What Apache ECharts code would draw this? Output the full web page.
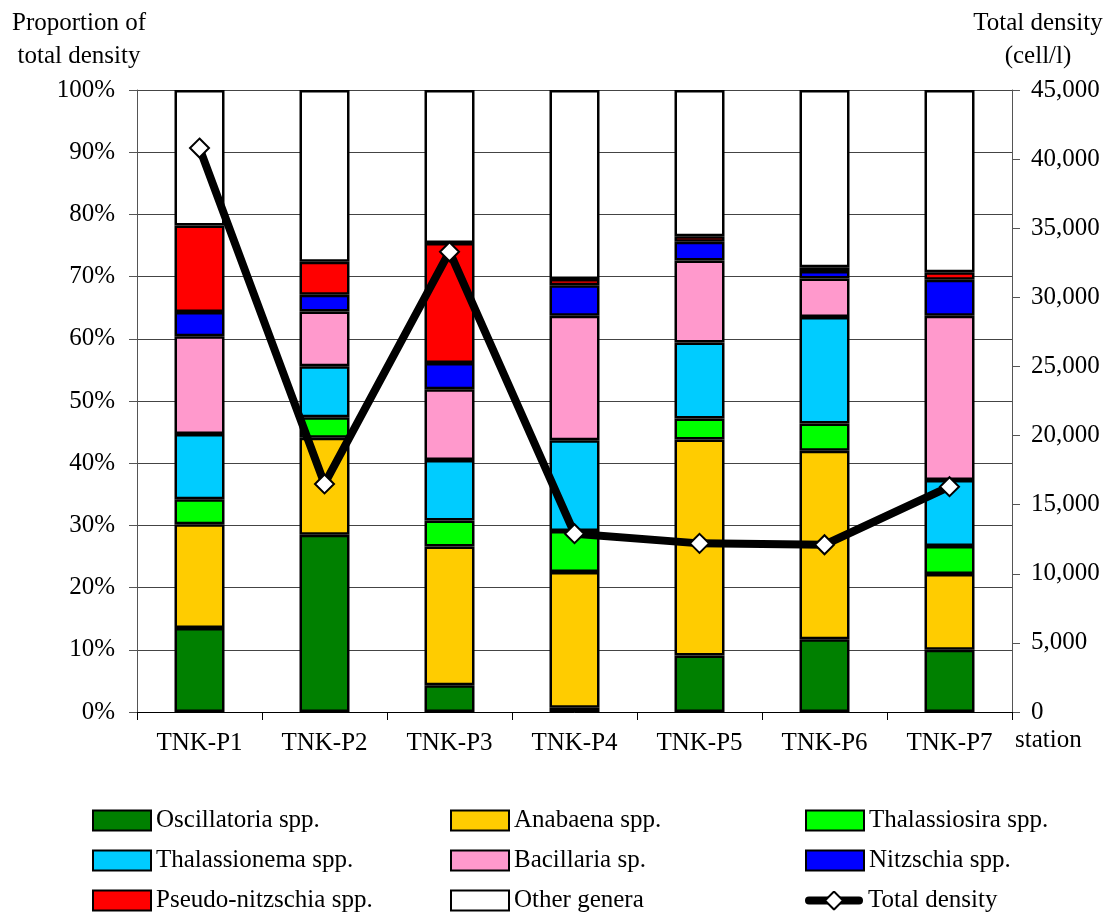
<!DOCTYPE html>
<html>
<head>
<meta charset="utf-8">
<script src="https://cdn.jsdelivr.net/npm/echarts@6/dist/echarts.min.js"></script>
<style>
  html, body { margin: 0; padding: 0; background: #fff; overflow: hidden; }
  #chart { width: 1109px; height: 915px; }
</style>
</head>
<body>
<div id="chart"></div>
<script>
// Sampling stations
const stations = ['TNK-P1', 'TNK-P2', 'TNK-P3', 'TNK-P4', 'TNK-P5', 'TNK-P6', 'TNK-P7'];

// Share of total density per genus (%)
const oscillatoria   = [13.5, 28.5, 4.3, 0.7, 9.1, 11.7, 10.0];
const anabaena       = [16.7, 15.6, 22.3, 21.8, 34.7, 30.3, 12.2];
const thalassiosira  = [4.0, 3.3, 4.2, 6.6, 3.4, 4.4, 4.5];
const thalassionema  = [10.5, 8.2, 9.7, 14.6, 12.2, 17.1, 10.6];
const bacillaria     = [15.7, 8.8, 11.4, 20.0, 13.2, 6.2, 26.4];
const nitzschia      = [3.9, 2.7, 4.2, 4.9, 3.0, 1.2, 5.8];
const pseudoNitzschia = [13.9, 5.3, 19.3, 1.0, 0.9, 0.6, 1.2];
const otherGenera    = [21.8, 27.6, 24.6, 30.4, 23.5, 28.5, 29.3];

// Total cell density (cell/l)
const totalDensity = [40800, 16500, 33300, 12900, 12200, 12100, 16300];

const FONT = "'Liberation Serif', 'Times New Roman', serif";
const FS = 25;

const genera = [
  { name: 'Oscillatoria spp.', data: oscillatoria, color: '#008000' },
  { name: 'Anabaena spp.', data: anabaena, color: '#FFCC00' },
  { name: 'Thalassiosira spp.', data: thalassiosira, color: '#00FF00' },
  { name: 'Thalassionema spp.', data: thalassionema, color: '#00CCFF' },
  { name: 'Bacillaria sp.', data: bacillaria, color: '#FF99CC' },
  { name: 'Nitzschia spp.', data: nitzschia, color: '#0000FF' },
  { name: 'Pseudo-nitzschia spp.', data: pseudoNitzschia, color: '#FF0000' },
  { name: 'Other genera', data: otherGenera, color: '#FFFFFF' }
];

const barSeries = genera.map(g => ({
  name: g.name,
  type: 'bar',
  stack: 'share',
  barWidth: 50,
  data: g.data,
  itemStyle: { color: g.color, borderColor: '#000', borderWidth: 2.5 },
  emphasis: { disabled: true }
}));

// Legend key for the density line: thick black stroke with a hollow diamond
const lineKeySvg =
  '<svg xmlns="http://www.w3.org/2000/svg" width="58" height="20" viewBox="0 0 58 20">' +
  '<line x1="4" y1="10" x2="54" y2="10" stroke="#000" stroke-width="8" stroke-linecap="round"/>' +
  '<path d="M29 1 L38 10 L29 19 L20 10 Z" fill="#fff" stroke="#000" stroke-width="2"/>' +
  '</svg>';
const lineKeyIcon = 'image://data:image/svg+xml;charset=utf-8,' + encodeURIComponent(lineKeySvg);

// Legend: three columns by three rows, one entry per legend box
const legendCols = [87, 445, 800];
const legendRows = [803, 843, 883];
const legendOrder = [
  ['Oscillatoria spp.', 'Anabaena spp.', 'Thalassiosira spp.'],
  ['Thalassionema spp.', 'Bacillaria sp.', 'Nitzschia spp.'],
  ['Pseudo-nitzschia spp.', 'Other genera', 'Total density']
];
const legends = [];
legendOrder.forEach((row, r) => {
  row.forEach((name, c) => {
    legends.push({
      left: legendCols[c],
      top: legendRows[r],
      itemWidth: 58,
      itemHeight: 20,
      selectedMode: false,
      textStyle: { fontFamily: FONT, fontSize: FS, color: '#000' },
      data: [name === 'Total density' ? { name, icon: lineKeyIcon } : { name, icon: 'rect' }]
    });
  });
});

const chart = echarts.init(document.getElementById('chart'));
chart.setOption({
  animation: false,
  backgroundColor: '#fff',
  grid: { left: 137, right: 97, top: 90, bottom: 203, containLabel: false, outerBoundsMode: 'none' },
  legend: legends,
  xAxis: {
    type: 'category',
    data: stations,
    boundaryGap: true,
    name: 'station',
    nameLocation: 'end',
    nameGap: 3,
    nameTextStyle: { fontFamily: FONT, fontSize: FS, color: '#000', verticalAlign: 'top', align: 'left', padding: [16, 0, 0, 0] },
    axisLine: { lineStyle: { color: '#000', width: 1 } },
    axisTick: { show: true, length: 8, alignWithLabel: false, lineStyle: { color: '#000' } },
    axisLabel: { fontFamily: FONT, fontSize: FS, color: '#000', margin: 19 },
    splitLine: { show: false }
  },
  yAxis: [
    {
      type: 'value',
      min: 0,
      max: 100,
      interval: 10,
      name: 'Proportion of\ntotal density',
      nameLocation: 'end',
      nameGap: 17,
      nameTextStyle: {
        fontFamily: FONT, fontSize: FS, color: '#000', lineHeight: 33,
        align: 'center', verticalAlign: 'bottom', padding: [0, 116, 0, 0]
      },
      axisLine: { show: true, lineStyle: { color: '#555', width: 1 } },
      axisTick: { show: true, length: 8, lineStyle: { color: '#555' } },
      axisLabel: { fontFamily: FONT, fontSize: FS, color: '#000', margin: 22, formatter: '{value}%' },
      splitLine: { show: true, lineStyle: { color: '#444', width: 1 } }
    },
    {
      type: 'value',
      min: 0,
      max: 45000,
      interval: 5000,
      position: 'right',
      name: 'Total density\n(cell/l)',
      nameLocation: 'end',
      nameGap: 17,
      nameTextStyle: {
        fontFamily: FONT, fontSize: FS, color: '#000', lineHeight: 33,
        align: 'center', verticalAlign: 'bottom', padding: [0, 0, 0, 52]
      },
      axisLine: { show: true, lineStyle: { color: '#555', width: 1 } },
      axisTick: { show: true, length: 8, lineStyle: { color: '#555' } },
      axisLabel: {
        fontFamily: FONT, fontSize: FS, color: '#000', margin: 19,
        formatter: v => v.toLocaleString('en-US')
      },
      splitLine: { show: false }
    }
  ],
  series: barSeries.concat([{
    name: 'Total density',
    type: 'line',
    yAxisIndex: 1,
    data: totalDensity,
    z: 5,
    symbol: 'diamond',
    symbolSize: 19,
    lineStyle: { color: '#000', width: 8 },
    itemStyle: { color: '#fff', borderColor: '#000', borderWidth: 2 },
    emphasis: { disabled: true }
  }])
});
</script>
</body>
</html>
